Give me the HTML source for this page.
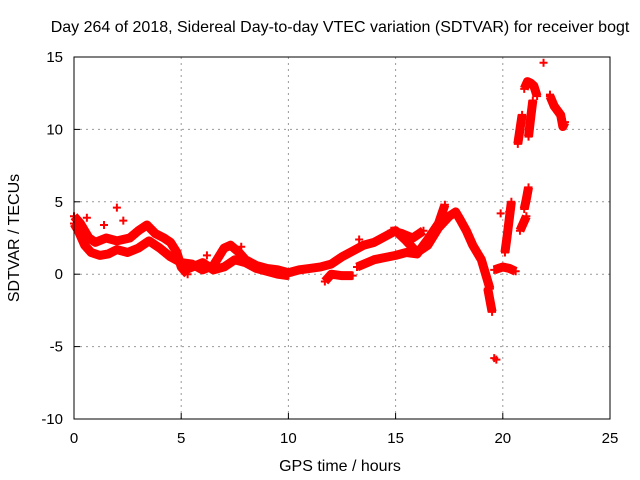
<!DOCTYPE html>
<html><head><meta charset="utf-8"><style>
body{margin:0;background:#fff}
svg{display:block;font-family:"Liberation Sans",sans-serif}
</style></head><body>
<svg id="c" width="640" height="480">
<text x="340" y="32" font-size="16" text-anchor="middle">Day 264 of 2018, Sidereal Day-to-day VTEC variation (SDTVAR) for receiver bogt</text>
<text x="340" y="471" font-size="16" text-anchor="middle">GPS time / hours</text>
<text transform="translate(19,238) rotate(-90)" font-size="16" text-anchor="middle">SDTVAR / TECUs</text>
<g id="grid"></g><g id="marks"></g><g id="axes"></g>
</svg>
<script>
const xTicks=[0,5,10,15,20,25];
const yTicks=[-10,-5,0,5,10,15];
const traceUpperH=[0,0.3,0.7,1,1.5,2,2.6,3,3.4,3.8,4.2,4.5,4.8,5,5.3];
const traceUpperV=[4,3.5,2.5,2.2,2.5,2.3,2.5,3,3.4,2.8,2.5,2.2,1.5,0.5,0];
const traceLowerH=[0,0.2,0.5,0.8,1.2,1.6,2,2.5,3,3.5,4,4.5,5];
const traceLowerV=[3.5,3,2,1.5,1.3,1.4,1.7,1.5,1.8,2.3,1.8,1.2,0.8];
const traceMainH=[5,5.5,6,6.5,7,7.3,7.7,8,8.5,9,9.5,10,10.5,11,11.5,12,12.5,13,13.5,14,14.5,15,15.5,16,16.5,17,17.5,17.8,18,18.3,18.6,19,19.2,19.4];
const traceMainV=[0.8,0.7,0.3,0.6,1.8,2,1.5,1,0.6,0.4,0.3,0.1,0.3,0.4,0.5,0.7,1.2,1.6,2,2.2,2.6,3,2.3,1.5,2,3.2,4,4.3,3.8,3,2,1,0,-1];
const traceSecondH=[5.2,6,6.5,7,7.5,8,8.5,9,9.5,10];
const traceSecondV=[0.3,0.8,0.3,0.5,1,0.8,0.4,0.2,0,-0.1];
const traceEveningH=[11.7,12,12.5,13];
const traceEveningV=[-0.5,0,-0.1,-0.1];
const traceRiseH=[13.2,14,15,15.5,16,16.5,17,17.3];
const traceRiseV=[0.5,1,1.3,1.5,1.4,2.4,3.5,4.8];
const traceBlobH=[14.8,15.3,15.8,16.3];
const traceBlobV=[3,2.8,2.5,3];
const traceTailH=[19.6,19.8,20,20.3,20.6];
const traceTailV=[0.3,0.4,0.5,0.4,0.2];
const traceDropH=[19.3,19.4,19.5];
const traceDropV=[-1,-1.8,-2.6];
const streak1H=[20.1,20.2,20.3,20.4];const streak1V=[1.5,2.6,3.8,5];
const streak2H=[20.8,20.95,21.1];const streak2V=[3,3.5,4];
const streak3H=[21,21.1,21.2];const streak3V=[4.5,5.2,6];
const streak4H=[20.7,20.8,20.9];const streak4V=[9,10,11];
const streak5H=[21.2,21.3,21.4];const streak5V=[9.5,10.8,12];
const arcH=[21,21.15,21.3,21.45,21.6];const arcV=[12.8,13.3,13.2,13,12.3];
const arc2H=[22.2,22.4,22.5,22.7,22.8,22.9];const arc2V=[12.3,11.6,11.4,11,10.2,10.5];
const singleH=[19.6,21.9,22.2,19.7,13.3,19.9,20.3,2,2.3,1.4,0.6,3.6,6.2,7.8];
const singleV=[-5.8,14.6,12.4,-5.9,2.4,4.2,4.3,4.6,3.7,3.4,3.9,3.2,1.3,1.9];
const traces=[[traceUpperH,traceUpperV],[traceLowerH,traceLowerV],[traceMainH,traceMainV],[traceSecondH,traceSecondV],[traceEveningH,traceEveningV],[traceRiseH,traceRiseV],[traceBlobH,traceBlobV],[traceTailH,traceTailV],[traceDropH,traceDropV],[streak1H,streak1V],[streak2H,streak2V],[streak3H,streak3V],[streak4H,streak4V],[streak5H,streak5V],[arcH,arcV],[arc2H,arc2V]];
const X0=74,X1=610,Y0=419,Y1=57;
const xs=h=>X0+(h-0)/25*(X1-X0);
const ys=v=>Y0-(v+10)/25*(Y0-Y1);
const NS="http://www.w3.org/2000/svg";
function mk(t,a,p){const e=document.createElementNS(NS,t);for(const k in a)e.setAttribute(k,a[k]);p.appendChild(e);return e;}
const grid=document.getElementById('grid'),axes=document.getElementById('axes'),marks=document.getElementById('marks');
xTicks.forEach(t=>{const x=xs(t);
 if(t>0&&t<25){const g=mk('line',{x1:x,x2:x,y1:Y1,y2:Y0,stroke:'#999','stroke-dasharray':'2,4'},grid);
 }
 const tl=mk('line',{x1:x,x2:x,y1:Y0,y2:Y0-6,stroke:'#000'},axes);
 
 const tx=mk('text',{x:x,y:Y0+24,'font-size':15,'text-anchor':'middle'},axes);tx.textContent=t;
 });
yTicks.forEach(t=>{const y=ys(t);
 if(t>-10&&t<15){const g=mk('line',{x1:X0,x2:X1,y1:y,y2:y,stroke:'#999','stroke-dasharray':'2,4'},grid);
 }
 const tl=mk('line',{x1:X0,x2:X0+6,y1:y,y2:y,stroke:'#000'},axes);
 
 const tx=mk('text',{x:X0-11,y:y+5,'font-size':15,'text-anchor':'end'},axes);tx.textContent=t;
 });
const fr=mk('rect',{x:X0,y:Y1,width:X1-X0,height:Y0-Y1,fill:'none',stroke:'#000'},axes);

function plus(h,v){const x=xs(h),y=ys(v);
 const p=mk('path',{d:`M${x-4},${y}H${x+4}M${x},${y-4}V${y+4}`,stroke:'#f00','stroke-width':2},marks);
 }
traces.forEach(([H,V])=>{
 const pl=mk('polyline',{points:H.map((h,i)=>xs(h)+','+ys(V[i])).join(' '),fill:'none',stroke:'#f00','stroke-width':9,'stroke-linejoin':'round'},marks);
 
 H.forEach((h,i)=>plus(h,V[i]));});
singleH.forEach((h,i)=>plus(h,singleV[i]));
</script>
</body></html>
